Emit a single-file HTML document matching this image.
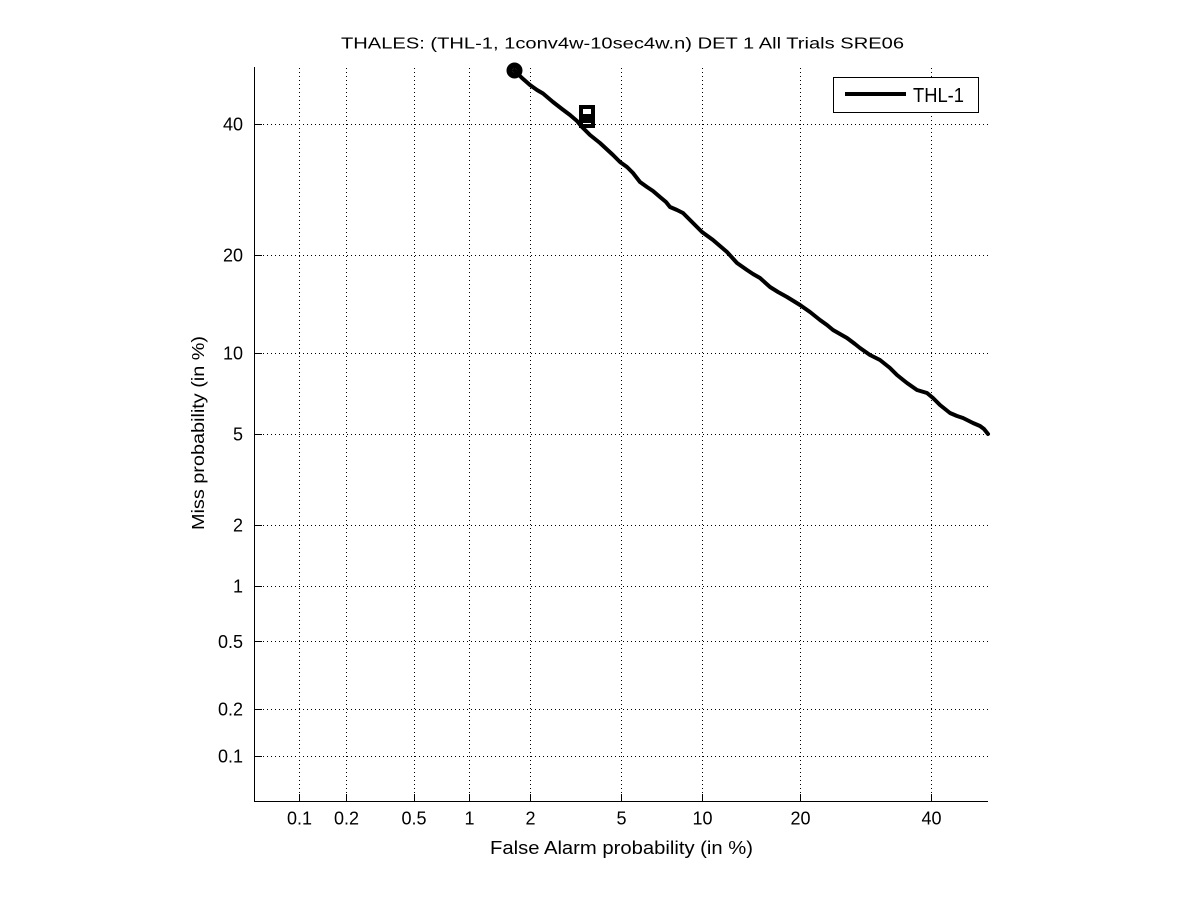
<!DOCTYPE html>
<html>
<head>
<meta charset="utf-8">
<style>
html,body{margin:0;padding:0;background:#fff;}
svg{display:block;}
text{font-family:"Liberation Sans",Arial,Helvetica,sans-serif;fill:#000;}
</style>
</head>
<body>
<svg width="1201" height="900" viewBox="0 0 1201 900" xmlns="http://www.w3.org/2000/svg">
<rect width="1201" height="900" fill="#fff"/>

<!-- grid -->
<g stroke="#000" stroke-width="1" stroke-dasharray="1 3" shape-rendering="crispEdges">
  <line x1="299.5" y1="68" x2="299.5" y2="801"/>
  <line x1="346.5" y1="68" x2="346.5" y2="801"/>
  <line x1="414.5" y1="68" x2="414.5" y2="801"/>
  <line x1="469.5" y1="68" x2="469.5" y2="801"/>
  <line x1="530.5" y1="68" x2="530.5" y2="801"/>
  <line x1="621.5" y1="68" x2="621.5" y2="801"/>
  <line x1="702.5" y1="68" x2="702.5" y2="801"/>
  <line x1="800.5" y1="68" x2="800.5" y2="801"/>
  <line x1="931.5" y1="68" x2="931.5" y2="801"/>

  <line x1="255" y1="756.5" x2="988" y2="756.5"/>
  <line x1="255" y1="709.5" x2="988" y2="709.5"/>
  <line x1="255" y1="641.5" x2="988" y2="641.5"/>
  <line x1="255" y1="586.5" x2="988" y2="586.5"/>
  <line x1="255" y1="525.5" x2="988" y2="525.5"/>
  <line x1="255" y1="434.5" x2="988" y2="434.5"/>
  <line x1="255" y1="353.5" x2="988" y2="353.5"/>
  <line x1="255" y1="255.5" x2="988" y2="255.5"/>
  <line x1="255" y1="124.5" x2="988" y2="124.5"/>
</g>

<!-- axes -->
<g stroke="#000" stroke-width="1" shape-rendering="crispEdges">
  <line x1="254.5" y1="67" x2="254.5" y2="801.5"/>
  <line x1="254" y1="801.5" x2="988" y2="801.5"/>
  <!-- y ticks -->
  <line x1="254" y1="756.5" x2="262" y2="756.5"/>
  <line x1="254" y1="709.5" x2="262" y2="709.5"/>
  <line x1="254" y1="641.5" x2="262" y2="641.5"/>
  <line x1="254" y1="586.5" x2="262" y2="586.5"/>
  <line x1="254" y1="525.5" x2="262" y2="525.5"/>
  <line x1="254" y1="434.5" x2="262" y2="434.5"/>
  <line x1="254" y1="353.5" x2="262" y2="353.5"/>
  <line x1="254" y1="255.5" x2="262" y2="255.5"/>
  <line x1="254" y1="124.5" x2="262" y2="124.5"/>
  <!-- x ticks -->
  <line x1="299.5" y1="794" x2="299.5" y2="801"/>
  <line x1="346.5" y1="794" x2="346.5" y2="801"/>
  <line x1="414.5" y1="794" x2="414.5" y2="801"/>
  <line x1="469.5" y1="794" x2="469.5" y2="801"/>
  <line x1="530.5" y1="794" x2="530.5" y2="801"/>
  <line x1="621.5" y1="794" x2="621.5" y2="801"/>
  <line x1="702.5" y1="794" x2="702.5" y2="801"/>
  <line x1="800.5" y1="794" x2="800.5" y2="801"/>
  <line x1="931.5" y1="794" x2="931.5" y2="801"/>
</g>

<!-- y tick labels -->
<g font-size="18" text-anchor="end">
  <text x="243" y="762.6">0.1</text>
  <text x="243" y="715.3">0.2</text>
  <text x="243" y="647.9">0.5</text>
  <text x="243" y="592.3">1</text>
  <text x="243" y="531.6">2</text>
  <text x="243" y="440.4">5</text>
  <text x="243" y="359.5">10</text>
  <text x="243" y="261.4">20</text>
  <text x="243" y="130.3">40</text>
</g>

<!-- x tick labels -->
<g font-size="18" text-anchor="middle">
  <text x="299.5" y="824.5">0.1</text>
  <text x="346.5" y="824.5">0.2</text>
  <text x="414" y="824.5">0.5</text>
  <text x="469.5" y="824.5">1</text>
  <text x="530.5" y="824.5">2</text>
  <text x="621.5" y="824.5">5</text>
  <text x="702.5" y="824.5">10</text>
  <text x="800.5" y="824.5">20</text>
  <text x="931.5" y="824.5">40</text>
</g>

<!-- labels -->
<text x="490" y="854" font-size="18" textLength="263" lengthAdjust="spacingAndGlyphs">False Alarm probability (in %)</text>
<text transform="translate(204,530) rotate(-90)" font-size="17.5" textLength="194" lengthAdjust="spacingAndGlyphs">Miss probability (in %)</text>
<text x="341" y="48.3" font-size="16" textLength="563" lengthAdjust="spacingAndGlyphs">THALES: (THL-1, 1conv4w-10sec4w.n) DET 1 All Trials SRE06</text>

<!-- curve -->
<polyline fill="none" stroke="#000" stroke-width="4" stroke-linejoin="round" stroke-linecap="round"
 points="514.5,70.5 522,78 530,85 537,90 543,93.5 553,102 562,109 570,115 577,121 582,127 590,135 600,143 613,155 620,162 627,167 633,173 640,182 647,187 653,191 660,197 666,202 670,207 677,210 683,213 690,220 696,226 702,232 713,240 720,246 727,252 737,263 747,270 753,274 760,278 770,287 778,292 787,297 800,305 810,312 820,320 827,325 833,330 840,334 847,338 855,344 860,348 870,355 880,360 890,368 897,375 907,383 917,390 927,393 933,398 940,405 950,413 957,416 963,418 973,423 980,426 984,429 988,434"/>

<!-- markers -->
<circle cx="514.5" cy="70.5" r="5" fill="none" stroke="#000" stroke-width="6"/>
<rect x="581" y="107" width="12" height="10" fill="none" stroke="#000" stroke-width="4"/>
<rect x="581" y="116" width="12" height="10" fill="none" stroke="#000" stroke-width="4"/>
<rect x="583" y="118" width="8" height="5" fill="#000"/>

<!-- legend -->
<rect x="833.5" y="77.5" width="145" height="35" fill="#fff" stroke="#000" stroke-width="1" shape-rendering="crispEdges"/>
<line x1="845" y1="94" x2="906" y2="94" stroke="#000" stroke-width="4"/>
<text x="913" y="102" font-size="20" textLength="51" lengthAdjust="spacingAndGlyphs">THL-1</text>
</svg>
</body>
</html>
